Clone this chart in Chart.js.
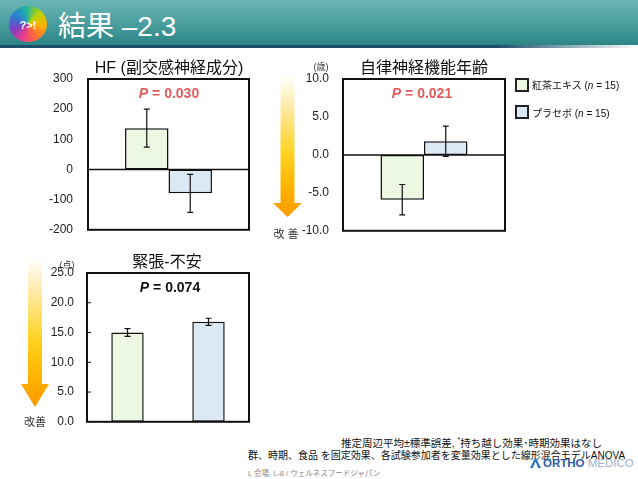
<!DOCTYPE html>
<html><head><meta charset="utf-8">
<script src="https://cdn.jsdelivr.net/npm/chart.js@4.4.0/dist/chart.umd.min.js"></script>
<style>
html,body{margin:0;padding:0}
body{width:638px;height:479px;position:relative;background:#fff;overflow:hidden;font-family:"Liberation Sans","Noto Sans CJK JP",sans-serif;color:#111}
.abs{position:absolute;white-space:nowrap}
.c{transform:translate(-50%,-50%)}
.lm{transform:translate(0,-50%)}
canvas{position:absolute;display:block}
#hdr{left:0;top:0;width:638px;height:45px;background:linear-gradient(to bottom,#6ab5b5 0%,#4c9f9f 50%,#2c8585 100%)}
#hdrline{left:0;top:45px;width:638px;height:3px;background:linear-gradient(to right,#1d4f6b 0%,#1d4f6b 78%,rgba(29,79,107,0) 100%)}
#icon{left:9px;top:6px;width:38px;height:36px;border-radius:50%;background:conic-gradient(from 200deg,#e83e8c,#7b3fc4,#2a7fd4,#22b5a0,#b8d400,#ffb000,#ff6a3a,#e83e8c)}
.arrow{position:absolute;background:linear-gradient(to bottom,rgba(255,255,255,0) 0%,#feeaa6 22%,#ffd21f 55%,#ffb300 80%,#f99800 100%)}
.leg{position:absolute;width:10px;height:10px;border:2px solid #222}
</style></head><body>
<div id="hdr" class="abs"></div>
<div id="hdrline" class="abs"></div>
<div id="icon" class="abs"></div>
<div class="abs c" style="left:28px;top:25px;font-size:11px;color:#fff;font-weight:bold;">?&gt;!</div>
<div class="abs lm" style="left:58px;top:24px;font-size:28px;color:#fff;">結果 –2.3</div>

<canvas id="hf" width="240" height="202" style="left:20px;top:50px;width:240px;height:202px"></canvas>
<canvas id="age" width="260" height="202" style="left:260px;top:50px;width:260px;height:202px"></canvas>
<canvas id="ten" width="260" height="202" style="left:0px;top:240px;width:260px;height:202px"></canvas>

<div class="abs c" style="left:169px;top:66px;font-size:16px;">HF (副交感神経成分)</div>
<div class="abs c" style="left:169px;top:93px;font-size:14px;font-weight:bold;color:#e05c5c;"><i>P</i> = 0.030</div>

<div class="abs c" style="left:424px;top:66px;font-size:16px;">自律神経機能年齢</div>
<div class="abs c" style="left:422px;top:93px;font-size:14px;font-weight:bold;color:#e05c5c;"><i>P</i> = 0.021</div>
<div class="abs c" style="left:321px;top:66px;font-size:9px;color:#333;">(歳)</div>
<div class="arrow" style="left:273px;top:76px;width:29px;height:141px;clip-path:polygon(7.5px 0,21.5px 0,21.5px 127px,29px 127px,14.5px 141px,0 127px,7.5px 127px)"></div>
<div class="abs c" style="left:286px;top:233px;font-size:11px;color:#333;">改 善</div>

<div class="abs c" style="left:167px;top:260px;font-size:16px;">緊張-不安</div>
<div class="abs c" style="left:170px;top:287px;font-size:14px;font-weight:bold;color:#111;"><i>P</i> = 0.074</div>
<div class="abs c" style="left:67px;top:264px;font-size:9px;color:#333;">(点)</div>
<div class="arrow" style="left:21px;top:259px;width:28px;height:148px;clip-path:polygon(7px 0,21px 0,21px 125px,28px 125px,14px 148px,0 125px,7px 125px)"></div>
<div class="abs c" style="left:35px;top:421px;font-size:11px;color:#333;">改善</div>

<div class="leg" style="left:515px;top:78px;background:#edf8e2"></div>
<div class="abs lm" style="left:532px;top:84px;font-size:10px;">紅茶エキス (<i>n</i> = 15)</div>
<div class="leg" style="left:515px;top:105px;background:#dce8f4"></div>
<div class="abs lm" style="left:532px;top:112px;font-size:10px;">プラセボ (<i>n</i> = 15)</div>

<div class="abs lm" style="left:341px;top:442px;font-size:10.5px;">推定周辺平均±標準誤差, <sup style="font-size:7px">*</sup>持ち越し効果･時期効果はなし</div>
<div class="abs lm" style="left:248px;top:454px;font-size:10px;">群、時期、食品 を固定効果、各試験参加者を変量効果とした線形混合モデルANOVA</div>
<div class="abs" style="left:530px;top:457px;width:11px;height:11px;background:#2a6fc0;clip-path:polygon(50% 0,100% 100%,75% 100%,50% 40%,25% 100%,0 100%)"></div>
<div class="abs lm" style="left:543px;top:463px;font-size:11.5px;font-weight:bold;color:#2a5ca8;">ORTHO <span style="font-weight:normal;color:#9fb0c8;">MEDICO</span></div>
<div class="abs lm" style="left:248px;top:472px;font-size:7.5px;color:#888;">L 会場, L-8 / ウェルネスフードジャパン</div>

<script>
// ---- data ----
const groups = ['紅茶エキス', 'プラセボ'];
const hfMeans = [137, -79];
const hfSE = [63, 63];
const ageMeans = [-5.9, 1.8];
const ageSE = [2.0, 2.0];
const tensionMeans = [15.0, 16.8];
const tensionSE = [0.65, 0.6];
const hfTicks = [-200, -100, 0, 100, 200, 300];
const ageTicks = [-10, -5, 0, 5, 10];
const tensionTicks = [0, 5, 10, 15, 20, 25];
const fills = ['#edf8e2', '#dce8f4'];

const FONT = '"Liberation Sans","Noto Sans CJK JP",sans-serif';

function decor(ses, o) {
  return {
    id: 'decor',
    afterDatasetsDraw(chart) {
      const {ctx, chartArea: a, scales: {y}} = chart;
      ctx.save();
      ctx.strokeStyle = '#111';
      if (o.zero) {
        const y0 = y.getPixelForValue(0);
        ctx.lineWidth = 1.5;
        ctx.beginPath(); ctx.moveTo(a.left, y0); ctx.lineTo(a.right, y0); ctx.stroke();
      }
      ctx.lineWidth = 1.2;
      chart.data.datasets.forEach((ds, i) => {
        const bar = chart.getDatasetMeta(i).data[0];
        const x = bar.x, m = ds.data[0], se = ses[i];
        const yt = y.getPixelForValue(m + se), yb = y.getPixelForValue(m - se);
        ctx.beginPath();
        ctx.moveTo(x, yt); ctx.lineTo(x, yb);
        ctx.moveTo(x - 3, yt); ctx.lineTo(x + 3, yt);
        ctx.moveTo(x - 3, yb); ctx.lineTo(x + 3, yb);
        ctx.stroke();
      });
      if (o.innerTicks) {
        ctx.lineWidth = 1;
        y.ticks.forEach(t => {
          const py = y.getPixelForValue(t.value);
          ctx.beginPath(); ctx.moveTo(a.left, py); ctx.lineTo(a.left + 4, py); ctx.stroke();
        });
      }
      ctx.lineWidth = 2;
      ctx.strokeRect(a.left, a.top, a.width, a.height);
      ctx.restore();
    }
  };
}

function makeChart(id, means, ses, ticks, o) {
  return new Chart(document.getElementById(id), {
    type: 'bar',
    data: {
      labels: [''],
      datasets: groups.map((g, i) => ({
        label: g, data: [means[i]],
        backgroundColor: fills[i], borderColor: '#111', borderWidth: 1.5, borderSkipped: false,
        barPercentage: o.bp, categoryPercentage: o.cp
      }))
    },
    options: {
      responsive: false, maintainAspectRatio: false, animation: false, devicePixelRatio: 1,
      layout: {padding: o.pad},
      plugins: {legend: {display: false}, tooltip: {enabled: false}, title: {display: false}},
      scales: {
        x: {display: false},
        y: {
          min: ticks[0], max: ticks[ticks.length - 1],
          afterBuildTicks: s => { s.ticks = ticks.map(v => ({value: v})); },
          afterFit: s => { s.width = o.yw; },
          ticks: {padding: o.tp, color: '#222', font: {size: 12, family: FONT}, callback: o.fmt},
          grid: {display: false, drawTicks: false},
          border: {display: false}
        }
      }
    },
    plugins: [decor(ses, o)]
  });
}

makeChart('hf', hfMeans, hfSE, hfTicks, {
  bp: 1, cp: 0.54, pad: {top: 29, right: 11, bottom: 10, left: 0}, yw: 68, tp: 15,
  fmt: v => String(v), zero: true
});
makeChart('age', ageMeans, ageSE, ageTicks, {
  bp: 1, cp: 0.537, pad: {top: 29, right: 15, bottom: 10, left: 0}, yw: 83, tp: 14,
  fmt: v => Number(v).toFixed(1), zero: true
});
makeChart('ten', tensionMeans, tensionSE, tensionTicks, {
  bp: 0.4, cp: 1, pad: {top: 33, right: 11, bottom: 8, left: 0}, yw: 87, tp: 13,
  fmt: v => Number(v).toFixed(1), innerTicks: true
});
</script>
</body></html>
